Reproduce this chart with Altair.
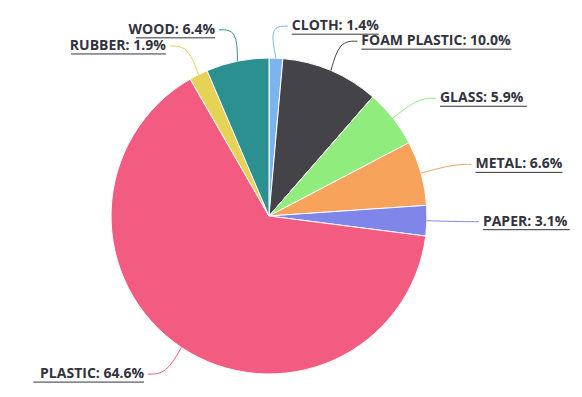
import altair as alt
import pandas as pd

categories = ["CLOTH", "FOAM PLASTIC", "GLASS", "METAL", "PAPER", "PLASTIC", "RUBBER", "WOOD"]
values = [1.4, 10.0, 5.9, 6.6, 3.1, 64.6, 1.9, 6.4]
labels = ["CLOTH: 1.4%", "FOAM PLASTIC: 10.0%", "GLASS: 5.9%", "METAL: 6.6%",
          "PAPER: 3.1%", "PLASTIC: 64.6%", "RUBBER: 1.9%", "WOOD: 6.4%"]
colors = ["#7cb5ec", "#434348", "#90ed7d", "#f7a35c", "#8085e9", "#f15c80", "#e4d354", "#2b908f"]

df = pd.DataFrame({"name": categories, "value": values, "label": labels,
                   "idx": list(range(len(categories)))})

CX, CY, R = 261, 208, 158

color = alt.Color("name:N", scale=alt.Scale(domain=categories, range=colors), legend=None)

base = alt.Chart(df)

pie = base.mark_arc(outerRadius=R, stroke="white", strokeWidth=1).encode(
    theta=alt.Theta("value:Q", stack=True),
    color=color,
    order=alt.Order("idx:Q"),
    x=alt.value(CX),
    y=alt.value(CY),
)

geo = base.transform_window(
    cum="sum(value)", sort=[alt.SortField("idx")], frame=[None, 0]
).transform_joinaggregate(
    total="sum(value)"
).transform_calculate(
    ang="(datum.cum - datum.value/2) / datum.total * 2 * PI"
).transform_calculate(
    side="sin(datum.ang) >= 0 ? 1 : -1",
).transform_calculate(
    lx=f"{CX} + 200*sin(datum.ang) + datum.side*14",
    ly=f"{CY} - 190*cos(datum.ang)",
    tw="length(datum.label) * 7.9",
)

text_style = dict(baseline="middle", font="Open Sans", fontSize=14,
                  fontWeight="bold", color="#333340")

right_text = geo.transform_filter("datum.side > 0").mark_text(
    align="left", **text_style
).encode(x=alt.X("lx:Q", scale=None), y=alt.Y("ly:Q", scale=None), text="label:N")

left_text = geo.transform_filter("datum.side < 0").mark_text(
    align="right", **text_style
).encode(x=alt.X("lx:Q", scale=None), y=alt.Y("ly:Q", scale=None), text="label:N")

underline = geo.transform_calculate(
    ux2="datum.lx + datum.side*datum.tw",
    uy="datum.ly + 8",
).mark_rule(color="#333340", strokeWidth=1).encode(
    x=alt.X("lx:Q", scale=None), x2="ux2:Q", y=alt.Y("uy:Q", scale=None)
)

leader = geo.transform_calculate(
    steps="[0, 1, 2]"
).transform_flatten(["steps"]).transform_calculate(
    px=f"datum.steps == 0 ? {CX} + {R}*sin(datum.ang) : (datum.steps == 1 ? datum.lx - datum.side*22 : datum.lx - datum.side*4)",
    py=f"datum.steps == 0 ? {CY} - {R}*cos(datum.ang) : datum.ly",
).mark_line(strokeWidth=1, interpolate="basis").encode(
    x=alt.X("px:Q", scale=None), y=alt.Y("py:Q", scale=None),
    detail="name:N", order=alt.Order("steps:Q"), color=color,
)

chart = alt.layer(pie, leader, underline, right_text, left_text).properties(
    width=566, height=381, padding=0
).configure_view(stroke=None)

chart.save("out.html", embed_options={"renderer": "svg", "actions": False})
